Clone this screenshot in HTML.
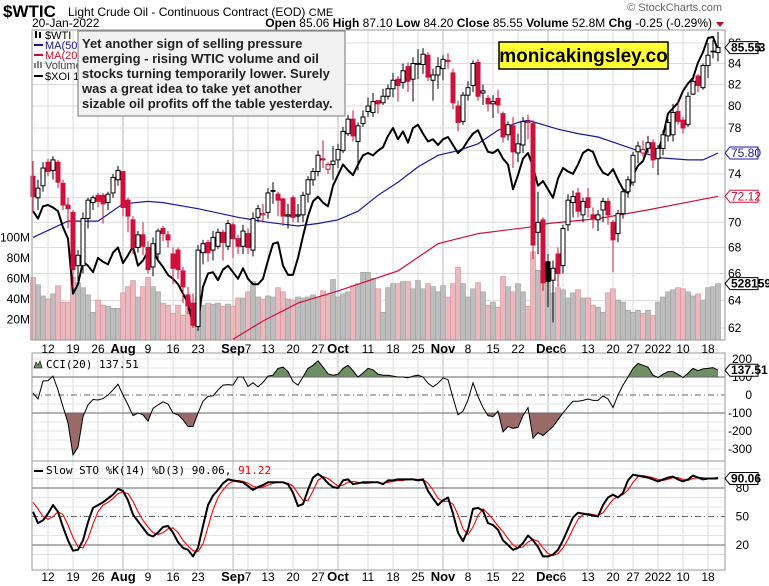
<!DOCTYPE html>
<html><head><meta charset="utf-8"><style>
html,body{margin:0;padding:0;background:#fff;}
svg{display:block;font-family:"Liberation Sans",sans-serif;}
</style></head><body>
<svg id="chart" width="769" height="586" viewBox="0 0 769 586" xmlns="http://www.w3.org/2000/svg">
<rect x="0" y="0" width="769" height="586" fill="#fff"/>
<g id="grid"></g>
<g id="vol"></g>
<g id="lines"></g>
<g id="candles"></g>
<g id="ind"></g>
<g id="axes"></g>
<!-- header -->
<text x="3" y="17" font-size="17" font-weight="bold">$WTIC</text>
<text x="68" y="16" font-size="12">Light Crude Oil - Continuous Contract (EOD) <tspan font-size="11">CME</tspan></text>
<text x="32" y="27" font-size="12">20-Jan-2022</text>
<text x="712" y="27" font-size="12" text-anchor="end"><tspan font-weight="bold">Open</tspan> 85.06  <tspan font-weight="bold">High</tspan> 87.10  <tspan font-weight="bold">Low</tspan> 84.20  <tspan font-weight="bold">Close</tspan> 85.55  <tspan font-weight="bold">Volume</tspan> 52.8M  <tspan font-weight="bold">Chg</tspan> -0.25 (-0.29%)</text>
<polygon points="716,22 724,22 720,27" fill="#b0102a"/>
<text x="722" y="11" font-size="11" fill="#666" text-anchor="end">© StockCharts.com</text>
<!-- legend -->
<g font-size="11">
<g><rect x="35" y="31" width="2" height="7" fill="#000"/><rect x="39" y="32" width="2" height="6" fill="#000"/><text x="45" y="39">$WTI</text></g>
<g><rect x="34" y="44" width="9" height="2" fill="#1a1a8c"/><text x="45" y="49" fill="#1a1a8c">MA(50)</text></g>
<g><rect x="34" y="54" width="9" height="2" fill="#c8102e"/><text x="45" y="59" fill="#c8102e">MA(200)</text></g>
<g><rect x="34" y="63" width="2" height="5" fill="#888"/><rect x="37" y="61" width="2" height="7" fill="#888"/><rect x="40" y="62" width="2" height="6" fill="#888"/><text x="45" y="69" fill="#444">Volume</text></g>
<g><rect x="34" y="75" width="9" height="2" fill="#000"/><text x="45" y="80">$XOI 1</text></g>
</g>
<!-- annotation -->
<g>
<rect x="78" y="31" width="267" height="85" fill="#f2f2f2" stroke="#777" stroke-width="1"/>
<text x="82" y="48" font-size="13" font-weight="bold" fill="#222">
<tspan x="82" y="48">Yet another sign of selling pressure</tspan>
<tspan x="82" y="63">emerging - rising WTIC volume and oil</tspan>
<tspan x="82" y="78">stocks turning temporarily lower. Surely</tspan>
<tspan x="82" y="93">was a great idea to take yet another</tspan>
<tspan x="82" y="108">sizable oil profits off the table yesterday.</tspan>
</text>
</g>
<g>
<rect x="499" y="42" width="169" height="27" fill="#ffff33" stroke="#000" stroke-width="1.5"/>
<text x="583.5" y="62" font-size="19" font-weight="bold" text-anchor="middle">monicakingsley.co</text>
</g>
<g id="tags"></g>
</svg>
<script>
// ---- data ----
const opens=[73.8,72.0,73.0,75.0,74.3,75.0,73.2,71.4,70.8,66.6,66.6,70.3,71.6,72.2,72.2,71.6,72.4,73.5,74.2,71.8,70.2,68.0,69.0,68.0,66.5,67.5,69.5,69.0,67.5,67.8,66.2,64.4,63.8,62.1,67.6,68.4,67.8,68.1,69.2,68.1,69.8,68.7,68.1,69.1,67.8,70.4,70.6,70.8,72.6,72.3,71.9,70.5,72.0,70.5,70.6,72.3,73.5,74.2,75.3,74.4,74.8,75.2,76.0,77.5,78.8,76.8,78.4,79.5,79.4,80.5,80.3,80.9,81.6,82.5,82.2,83.7,82.5,84.0,83.9,84.8,82.4,82.9,83.5,84.3,83.1,80.0,78.6,81.0,81.9,84.1,81.2,80.7,80.2,80.7,79.3,77.4,78.2,75.8,76.5,78.6,78.4,69.2,70.2,66.9,65.5,67.5,66.6,69.8,71.6,72.4,70.6,72.0,70.6,70.2,71.0,71.7,70.0,69.1,70.7,72.5,73.3,75.9,75.8,76.2,76.7,75.3,76.2,77.3,77.4,79.5,78.7,78.3,81.1,82.8,81.7,83.8,85.2,85.06];
const highs=[75.1,73.5,75.0,75.3,75.5,75.2,73.5,72.0,71.0,67.8,70.8,72.0,72.2,72.4,72.4,72.5,74.0,74.7,74.2,72.0,70.5,69.3,70.0,68.5,68.8,69.5,69.7,69.3,68.0,68.0,66.5,65.0,64.5,68.2,68.6,68.6,69.3,69.5,69.4,70.2,70.0,69.0,69.8,69.5,70.8,71.4,71.5,72.8,73.3,72.5,72.0,71.5,72.2,71.5,72.5,73.8,74.5,76.0,76.9,75.0,76.4,76.6,78.1,79.2,79.6,78.5,79.6,80.8,81.2,80.5,81.6,82.0,83.1,82.8,84.0,84.1,84.6,85.4,85.5,85.1,83.5,84.6,84.8,85.0,83.5,80.5,81.3,82.3,84.3,84.4,82.0,81.0,81.0,81.5,79.5,78.6,79.0,77.5,79.0,79.2,78.7,72.5,70.4,67.5,67.0,68.0,69.8,72.3,72.6,72.8,72.0,72.8,71.2,71.0,72.0,72.0,70.2,71.0,72.8,73.8,75.9,76.8,76.9,77.3,77.0,76.5,77.8,78.8,80.2,80.6,79.0,81.3,82.9,83.0,84.0,86.0,86.3,87.1];
const lows=[70.8,71.0,72.5,73.8,73.5,72.8,71.0,69.5,65.0,65.2,66.0,69.5,71.0,71.2,69.9,71.0,72.0,73.0,70.5,69.2,67.5,67.6,67.4,66.0,65.8,67.0,68.5,68.0,65.2,65.6,63.8,63.0,62.0,61.8,66.7,66.9,67.0,67.9,67.0,67.8,67.2,67.5,67.5,67.5,67.3,70.0,70.0,70.3,71.5,70.5,69.7,69.5,70.0,70.0,70.0,71.6,73.0,73.8,74.5,74.0,73.5,74.5,75.8,77.3,76.8,74.3,78.1,79.0,79.0,79.3,80.1,80.6,80.8,80.4,81.6,81.3,80.4,82.5,83.0,82.3,80.5,81.6,82.4,83.5,79.7,77.7,78.3,80.5,81.3,80.5,80.1,79.5,78.9,79.3,76.7,76.9,74.5,75.0,75.8,77.0,67.1,67.5,64.7,63.5,62.4,65.0,66.0,69.3,70.4,70.4,70.0,70.4,69.5,69.3,70.0,69.8,66.1,68.4,70.3,72.0,73.0,74.9,75.5,75.8,74.5,73.9,75.6,76.8,76.8,78.3,77.5,78.1,81.0,81.3,81.5,82.6,84.5,84.2];
const closes=[72.1,72.8,74.5,74.2,75.2,73.3,71.4,71.1,66.3,67.4,70.3,71.8,72.0,71.7,71.5,72.3,73.7,74.3,71.2,70.5,68.0,69.0,68.1,66.3,68.3,69.3,69.1,68.6,66.4,66.3,65.0,63.6,62.2,67.8,68.3,67.6,68.8,69.2,68.4,69.9,68.7,68.1,69.3,68.0,70.3,71.1,70.7,72.4,72.6,71.8,70.5,70.6,70.4,70.6,72.2,73.5,74.2,75.6,75.2,74.8,75.1,76.1,77.7,78.8,77.3,78.2,79.0,80.0,80.4,80.2,80.9,81.6,82.4,81.9,83.3,82.3,84.0,84.0,84.9,82.7,82.9,83.7,84.4,84.2,80.3,78.5,81.0,81.7,84.0,80.9,81.4,80.2,80.4,80.1,77.2,78.3,75.9,76.6,78.6,78.5,68.2,70.0,65.3,65.4,66.4,66.0,69.5,71.8,72.1,70.9,71.7,71.2,70.3,70.6,71.7,70.6,68.6,70.7,72.5,73.5,75.6,76.4,76.1,76.7,75.2,76.2,77.4,78.5,79.4,78.6,78.0,80.9,82.3,81.9,83.8,84.8,85.2,85.55];
const volumes=[61,54,43,40,45,53,37,37,61,56,51,44,27,39,34,33,31,31,46,52,58,42,52,61,52,47,36,34,26,34,24,39,32,42,34,36,35,36,33,35,33,41,41,47,57,42,40,43,42,51,47,40,39,42,41,42,44,42,48,44,59,42,45,47,53,55,66,66,60,50,27,51,55,55,57,57,50,58,50,55,52,47,53,42,55,71,55,42,50,56,47,34,37,32,62,52,47,55,47,33,86,68,63,63,46,51,49,41,46,49,41,41,34,32,27,46,50,39,37,29,27,29,26,29,24,37,42,47,49,51,50,47,43,45,39,51,52,55];
const xoiValues=[70.9,70.3,71.3,71.4,71.2,70.9,69.6,68.7,64.5,65.2,66.9,66.6,66.1,67.2,66.9,66.7,67.6,68.0,66.8,67.4,68.1,66.6,67.0,67.7,67.8,67.0,66.5,65.9,65.6,65.2,64.5,63.8,62.2,62.4,65.0,66.0,66.1,65.5,66.3,66.6,66.1,65.6,66.4,65.6,65.2,65.2,65.6,67.0,68.3,68.4,66.6,65.9,65.9,67.2,68.9,70.5,71.7,72.1,71.6,71.3,73.0,73.9,74.8,74.3,73.9,74.8,75.6,75.8,75.6,76.0,76.3,77.3,78.0,77.0,77.7,76.7,78.0,78.3,77.5,76.8,77.0,76.5,77.0,77.2,76.5,75.8,76.2,76.9,77.5,77.8,76.8,75.9,75.8,76.1,75.3,74.8,72.7,73.9,75.3,75.8,74.6,73.0,73.4,72.7,72.0,73.6,74.5,74.2,74.0,74.8,75.8,76.1,75.9,74.8,74.1,73.9,74.4,73.5,72.7,72.4,73.9,74.7,75.1,76.3,76.4,75.9,77.3,79.3,79.8,80.3,81.4,82.1,82.6,84.1,85.1,86.5,86.6,85.3];
const ma50Idx=[0,7,13,18,23,26,33,41,47,53,57,61,65,69,73,77,81,85,89,93,97,99,105,109,113,117,121,125,131,134,137];
const ma50Values=[68.8,70.1,70.1,71.5,71.7,71.6,71.1,70.4,70.0,69.7,69.9,70.2,70.9,72.2,73.3,74.6,75.6,76.0,76.6,77.8,78.5,78.7,77.9,77.5,77.2,76.6,76.0,75.4,75.2,75.2,75.8];
const ma200Idx=[40,46,53,61,73,81,89,99,103,113,123,133,137];
const ma200Values=[61.2,62.5,63.8,64.7,66.2,68.3,69.1,69.6,69.9,70.3,71.0,71.8,72.12];
const cciValues=[10,-22,78,80,105,28,-65,-155,-333,-290,-120,-55,-25,-28,-20,0,28,60,0,-55,-115,-100,-110,-145,-75,-55,-38,-50,-100,-110,-137,-175,-175,-100,-35,-8,-5,28,55,58,55,100,100,48,68,45,70,105,110,148,155,130,75,55,100,148,165,190,155,118,110,115,148,165,135,100,122,148,140,115,110,110,105,100,
100,95,105,110,100,65,45,65,95,85,-15,-110,-90,-28,68,-8,-70,-115,-120,-90,-205,-175,-185,-180,-115,-70,-240,-210,-225,-200,-175,-137,-100,-65,-35,-35,-30,-22,-30,-30,-5,-22,-70,0,55,100,148,175,165,155,110,97,115,130,130,115,97,120,148,135,145,148,152,137.51];
const stoK=[55,43,46,53,62,55,39,25,14,15,25,44,59,62,65,69,73,79,77,67,52,45,38,31,29,33,39,40,33,23,17,15,8,17,40,62,72,78,85,89,88,87,86,82,78,81,83,86,86,86,86,84,75,61,63,78,91,95,91,85,81,80,88,89,84,85,86,86,86,86,84,88,88,89,
89,89,89,88,89,77,69,62,67,70,53,33,24,36,58,59,56,43,41,36,25,20,15,17,22,30,25,18,8,8,10,15,25,37,49,54,53,52,51,50,62,70,73,70,75,88,94,93,92,91,89,87,89,91,92,89,87,89,93,91,89,90,90,90.06];
const stoD=[65,58,50,47,50,55,52,41,28,18,17,27,42,55,62,65,69,74,76,74,66,55,46,39,33,31,33,37,38,33,25,19,14,13,21,39,57,70,78,84,87,88,87,85,82,80,81,83,85,86,86,85,82,74,67,67,77,88,92,90,86,82,83,86,87,86,85,85,86,86,85,86,87,88,
88,89,89,89,89,85,78,69,66,66,63,52,37,31,39,51,58,53,47,40,34,27,20,17,18,23,26,24,17,11,9,11,17,26,37,47,52,53,52,51,54,61,68,71,73,78,86,92,93,92,91,89,88,89,91,91,89,88,90,91,91,90,90,91.22];
const dateIdx=[3,8,13,18,23,28,33,40,43,47,52,57,61,67,72,77,82,87,92,97,103,106,111,116,120,125,130,135];
const dateLabels=["12","19","26","Aug","9","16","23","Sep","7","13","20","27","Oct","11","18","25","Nov","8","15","22","Dec","6","13","20","27","2022","10","18"];
const priceTicks=[62,64,66,68,70,74,78,80,82,84,86];
const priceGrid=[62,64,66,68,70,72,74,76,78,80,82,84,86];
const volTicks=[20,40,60,80,100];
const volTickLabels=["20M","40M","60M","80M","100M"];
const cciTicks=[200,100,0,-100,-200,-300];
const stoTicks=[80,50,20];

// ---- scales ----
const PL=32,PR=725;
const X=i=>33+5*i;
const Y=p=>43+871*Math.log(86/p);
const VY=v=>340-1.025*v;
const CY=c=>395-0.18*c;
const SY=s=>564-0.95*s;
const NS="http://www.w3.org/2000/svg";
function mk(tag,attrs,parent){const e=document.createElementNS(NS,tag);for(const k in attrs)e.setAttribute(k,attrs[k]);parent.appendChild(e);return e;}
const G=id=>document.getElementById(id);
const grid=G('grid'),vol=G('vol'),lines=G('lines'),cand=G('candles'),ind=G('ind'),axes=G('axes'),tags=G('tags');

const panels=[[30,340],[353,461],[461,570]];
panels.forEach(([t,b],k)=>{
  dateIdx.forEach((d,j)=>{
    const month=isNaN(+dateLabels[j]);
    const l=mk('line',{x1:X(d),x2:X(d),y1:t,y2:b,stroke:month?'#bbb':'#dcdcdc','stroke-width':1},grid);
    
    
  });
});
priceGrid.forEach(p=>{
  const l=mk('line',{x1:PL,x2:PR,y1:Y(p),y2:Y(p),stroke:'#dcdcdc'},grid);
  
  
});
[200,150,50,-50,-150,-200,-250,-300].forEach(c=>{
  const l=mk('line',{x1:PL,x2:PR,y1:CY(c),y2:CY(c),stroke:'#e4e4e4'},grid);
  
  
});
[100,90,70,60,40,30,10].forEach(s=>{
  const l=mk('line',{x1:PL,x2:PR,y1:SY(s),y2:SY(s),stroke:'#e4e4e4'},grid);
  
  
});

volumes.forEach((v,i)=>{
  const down=i>0?closes[i]<closes[i-1]:closes[i]<opens[i];
  const r=mk('rect',{x:X(i)-2.5,y:VY(v),width:5,height:340-VY(v),fill:down?'#e9b9be':'#bdbdbd',stroke:down?'#d88f99':'#a0a0a0','stroke-width':0.6},vol);
  
  
});

const defs=mk('defs',{},G('chart'));
const cp=mk('clipPath',{id:'mainclip'},defs);mk('rect',{x:PL,y:30,width:PR-PL,height:310},cp);
lines.setAttribute('clip-path','url(#mainclip)');

function poly(idx,vals,fy,attrs,parent,name){
  const pts=vals.map((v,j)=>X(idx?idx[j]:j).toFixed(1)+','+fy(v).toFixed(1)).join(' ');
  const p=mk('polyline',Object.assign({points:pts,fill:'none'},attrs),parent);
  
  
  return p;
}
poly(ma200Idx,ma200Values,Y,{stroke:'#d0103a','stroke-width':1.2},lines,'ma200-line');
poly(ma50Idx,ma50Values,Y,{stroke:'#1a1a9c','stroke-width':1.2},lines,'ma50-line');
poly(null,xoiValues,Y,{stroke:'#000','stroke-width':2,'stroke-linejoin':'round'},lines,'xoi-line');

closes.forEach((c,i)=>{
  const o=opens[i],h=highs[i],l=lows[i];
  const prev=i>0?closes[i-1]:o;
  const col=c<prev?'#d0103a':'#000';
  const g=mk('g',{},cand);
  
  
  mk('line',{x1:X(i),x2:X(i),y1:Y(h),y2:Y(l),stroke:col,'stroke-width':1},g);
  const top=Y(Math.max(o,c)),bot=Y(Math.min(o,c));
  mk('rect',{x:X(i)-2,y:top,width:4,height:Math.max(bot-top,0.8),fill:c>=o?'#fff':col,stroke:col,'stroke-width':1},g);
});

const cciClipA=mk('clipPath',{id:'cciA'},defs);mk('rect',{x:PL,y:353,width:PR-PL,height:CY(100)-353},cciClipA);
const cciClipB=mk('clipPath',{id:'cciB'},defs);mk('rect',{x:PL,y:CY(-100),width:PR-PL,height:461-CY(-100)},cciClipB);
function area(base,clip,fill,name){
  const pts=cciValues.map((v,j)=>X(j).toFixed(1)+','+CY(v).toFixed(1));
  pts.push(X(cciValues.length-1)+','+CY(base));pts.unshift(X(0)+','+CY(base));
  const p=mk('polygon',{points:pts.join(' '),fill:fill,'clip-path':'url(#'+clip+')'},ind);
  
  
}
area(100,'cciA','#6e8f64','cci-overbought-fill');
area(-100,'cciB','#9a6a68','cci-oversold-fill');
[[100,'none'],[-100,'none'],[0,'6,3,1,3']].forEach(([c,d])=>{
  const l=mk('line',{x1:PL,x2:PR,y1:CY(c),y2:CY(c),stroke:'#666','stroke-width':1,'stroke-dasharray':d},ind);
  
  
});
poly(null,cciValues,CY,{stroke:'#000','stroke-width':1},ind,'cci-line');

[[80,'none'],[20,'none'],[50,'6,3,1,3']].forEach(([s,d])=>{
  const l=mk('line',{x1:PL,x2:PR,y1:SY(s),y2:SY(s),stroke:'#666','stroke-width':1,'stroke-dasharray':d},ind);
  
  
});
poly(null,stoD,SY,{stroke:'#f00','stroke-width':1.1},ind,'sto-d-line');
poly(null,stoK,SY,{stroke:'#000','stroke-width':2,'stroke-linejoin':'round'},ind,'sto-k-line');

panels.forEach(([t,b])=>{
  const r=mk('rect',{x:PL,y:t,width:PR-PL,height:b-t,fill:'none',stroke:'#999','stroke-width':1},axes);
  
  
});

function txt(x,y,s,attrs,parent,name){
  const t=mk('text',Object.assign({x:x,y:y,'font-size':12},attrs),parent);
  t.textContent=s;
  
  
  return t;
}
priceTicks.forEach(p=>txt(728,Y(p)+4,String(p),{},axes,'price-tick-label'));
volTicks.forEach((v,j)=>txt(30,VY(v)+4,volTickLabels[j],{'text-anchor':'end'},axes,'volume-tick-label'));
cciTicks.forEach(c=>txt(752,CY(c)+4,String(c),{'text-anchor':'end'},axes,'cci-tick-label'));
stoTicks.forEach(s=>txt(749,SY(s)+4,String(s),{'text-anchor':'end'},axes,'sto-tick-label'));
[349,577].forEach(yy=>{
  dateIdx.forEach((d,j)=>{
    const month=isNaN(+dateLabels[j]);
    txt(X(d),yy+4,dateLabels[j],{'text-anchor':'middle','font-weight':month?'bold':'normal','font-size':month?13:12},axes,'date-tick-label');
  });
});
mk('polygon',{points:'34,368 36,362 38,365 40,361 42,368',fill:'#6e8f64',stroke:'#000','stroke-width':0.6},axes);
txt(46,368,'CCI(20) 137.51',{'font-family':'DejaVu Sans Mono, Liberation Mono, monospace','font-size':11},axes,'cci-legend');
mk('rect',{x:34,y:470,width:9,height:2,fill:'#000'},axes);
const st=txt(46,474,'Slow STO %K(14) %D(3) 90.06, ',{'font-family':'DejaVu Sans Mono, Liberation Mono, monospace','font-size':11},axes,'sto-legend');
const ts=document.createElementNS(NS,'tspan');ts.setAttribute('fill','#f00');ts.textContent='91.22';st.appendChild(ts);

function tag(y,label,color,name,extra){
  const g=mk('g',{},tags);
  
  
  if(extra)txt(752,y+4,extra,{'font-size':12,'font-weight':'bold'},g,name+'-hidden');
  mk('polygon',{points:`725,${y} 730,${y-6} 758,${y-6} 758,${y+6} 730,${y+6}`,fill:'#fff',stroke:color,'stroke-width':1},g);
  txt(731,y+4,label,{'font-size':12,'font-weight':color==='#000'?'bold':'normal',fill:color==='#000'?'#000':color},g,name+'-text');
}
tag(Y(85.55),'85.55','#000','last-price-tag','53');
tag(Y(75.8),'75.80','#1a1a9c','ma50-tag');
tag(Y(72.12),'72.12','#d0103a','ma200-tag');
tag(VY(55),'5281590','#000','volume-tag');
tag(CY(137.51),'137.51','#000','cci-tag');
tag(SY(90.06),'90.06','#000','sto-tag');
</script>
</body></html>
